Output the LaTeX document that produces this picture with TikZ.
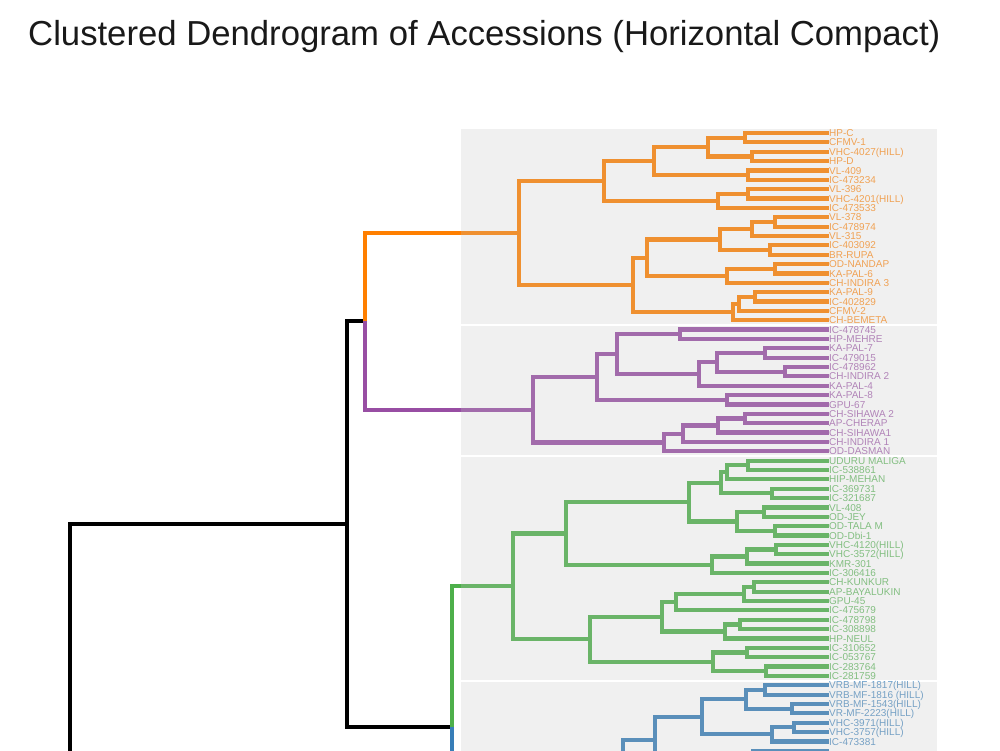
\documentclass[tikz,border=0pt]{standalone}
\usepackage{fontspec}
\setmainfont{Liberation Sans}
\usetikzlibrary{calc}
\newfontfamily\labfam{Liberation Sans}
\newcommand\labfont{\labfam\fontsize{10}{10}\selectfont}
\newcommand\titlefont{\labfam\fontsize{34.7}{36}\selectfont}
\definecolor{cO}{HTML}{FF7F00}
\definecolor{cP}{HTML}{984EA3}
\definecolor{cG}{HTML}{4DAF4A}
\definecolor{cB}{HTML}{377EB8}
\definecolor{panelgray}{RGB}{195,195,195}
\tikzset{
  lk/.style={line width=4.2pt, line cap=butt, line join=miter},
  lab/.style={anchor=west, inner sep=0pt, font=\labfont, text height=7.2pt, text depth=0pt},
  panel/.style={fill=panelgray, fill opacity=0.25, draw=none},
}
% leaf label: name, index, colour, text
\newcommand\leaf[4]{\node[lab,text=#3!82] (#1) at (829,{133+9.36*#2}) {#4};}
% join: name, x, child a, child b, colour
\newcommand\jn[5]{\path let \p1=($(#3)!.5!(#4)$) in coordinate (#1) at (#2,\y1);
  \draw[lk,#5] (#3) -| (#1) |- (#4);}
\begin{document}
\begin{tikzpicture}[x=1pt,y=-1pt]
\useasboundingbox (0,0) rectangle (1000,750);
\clip (0,0) rectangle (1000,750);
% ---- leaves (labels) ----
\leaf{o1}{0}{cO}{HP-C}
\leaf{o2}{1}{cO}{CFMV-1}
\leaf{o3}{2}{cO}{VHC-4027(HILL)}
\leaf{o4}{3}{cO}{HP-D}
\leaf{o5}{4}{cO}{VL-409}
\leaf{o6}{5}{cO}{IC-473234}
\leaf{o7}{6}{cO}{VL-396}
\leaf{o8}{7}{cO}{VHC-4201(HILL)}
\leaf{o9}{8}{cO}{IC-473533}
\leaf{o10}{9}{cO}{VL-378}
\leaf{o11}{10}{cO}{IC-478974}
\leaf{o12}{11}{cO}{VL-315}
\leaf{o13}{12}{cO}{IC-403092}
\leaf{o14}{13}{cO}{BR-RUPA}
\leaf{o15}{14}{cO}{OD-NANDAP}
\leaf{o16}{15}{cO}{KA-PAL-6}
\leaf{o17}{16}{cO}{CH-INDIRA 3}
\leaf{o18}{17}{cO}{KA-PAL-9}
\leaf{o19}{18}{cO}{IC-402829}
\leaf{o20}{19}{cO}{CFMV-2}
\leaf{o21}{20}{cO}{CH-BEMETA}
\leaf{p1}{21}{cP}{IC-478745}
\leaf{p2}{22}{cP}{HP-MEHRE}
\leaf{p3}{23}{cP}{KA-PAL-7}
\leaf{p4}{24}{cP}{IC-479015}
\leaf{p5}{25}{cP}{IC-478962}
\leaf{p6}{26}{cP}{CH-INDIRA 2}
\leaf{p7}{27}{cP}{KA-PAL-4}
\leaf{p8}{28}{cP}{KA-PAL-8}
\leaf{p9}{29}{cP}{GPU-67}
\leaf{p10}{30}{cP}{CH-SIHAWA 2}
\leaf{p11}{31}{cP}{AP-CHERAP}
\leaf{p12}{32}{cP}{CH-SIHAWA1}
\leaf{p13}{33}{cP}{CH-INDIRA 1}
\leaf{p14}{34}{cP}{OD-DASMAN}
\leaf{g1}{35}{cG}{UDURU MALIGA}
\leaf{g2}{36}{cG}{IC-538861}
\leaf{g3}{37}{cG}{HIP-MEHAN}
\leaf{g4}{38}{cG}{IC-369731}
\leaf{g5}{39}{cG}{IC-321687}
\leaf{g6}{40}{cG}{VL-408}
\leaf{g7}{41}{cG}{OD-JEY}
\leaf{g8}{42}{cG}{OD-TALA M}
\leaf{g9}{43}{cG}{OD-Dbi-1}
\leaf{g10}{44}{cG}{VHC-4120(HILL)}
\leaf{g11}{45}{cG}{VHC-3572(HILL)}
\leaf{g12}{46}{cG}{KMR-301}
\leaf{g13}{47}{cG}{IC-306416}
\leaf{g14}{48}{cG}{CH-KUNKUR}
\leaf{g15}{49}{cG}{AP-BAYALUKIN}
\leaf{g16}{50}{cG}{GPU-45}
\leaf{g17}{51}{cG}{IC-475679}
\leaf{g18}{52}{cG}{IC-478798}
\leaf{g19}{53}{cG}{IC-308898}
\leaf{g20}{54}{cG}{HP-NEUL}
\leaf{g21}{55}{cG}{IC-310652}
\leaf{g22}{56}{cG}{IC-053767}
\leaf{g23}{57}{cG}{IC-283764}
\leaf{g24}{58}{cG}{IC-281759}
\leaf{b1}{59}{cB}{VRB-MF-1817(HILL)}
\leaf{b2}{60}{cB}{VRB-MF-1816 (HILL)}
\leaf{b3}{61}{cB}{VRB-MF-1543(HILL)}
\leaf{b4}{62}{cB}{VR-MF-2223(HILL)}
\leaf{b5}{63}{cB}{VHC-3971(HILL)}
\leaf{b6}{64}{cB}{VHC-3757(HILL)}
\leaf{b7}{65}{cB}{IC-473381}
\coordinate (b8) at (829,750.76);
\coordinate (b9) at (829,760.12);
\coordinate (b10) at (829,769.48);
% ---- orange cluster ----
\jn{oa}{745}{o1}{o2}{cO}
\jn{ob}{752}{o3}{o4}{cO}
\jn{oc}{708}{oa}{ob}{cO}
\jn{od}{748}{o5}{o6}{cO}
\jn{oe}{654}{oc}{od}{cO}
\jn{of}{748}{o7}{o8}{cO}
\jn{og}{718}{of}{o9}{cO}
\jn{oh}{604}{oe}{og}{cO}
\jn{oi}{775}{o10}{o11}{cO}
\jn{oj}{752}{oi}{o12}{cO}
\jn{ok}{770}{o13}{o14}{cO}
\jn{ol}{720}{oj}{ok}{cO}
\jn{om}{775}{o15}{o16}{cO}
\jn{on}{727}{om}{o17}{cO}
\jn{oo}{647}{ol}{on}{cO}
\jn{op}{755}{o18}{o19}{cO}
\jn{oq}{739}{op}{o20}{cO}
\jn{or}{733}{oq}{o21}{cO}
\jn{os}{633}{oo}{or}{cO}
\jn{OR}{519}{oh}{os}{cO}
% ---- purple cluster ----
\jn{pa}{680}{p1}{p2}{cP}
\jn{pb}{765}{p3}{p4}{cP}
\jn{pc}{785}{p5}{p6}{cP}
\jn{pd}{717}{pb}{pc}{cP}
\jn{pe}{699}{pd}{p7}{cP}
\jn{pf}{617}{pa}{pe}{cP}
\jn{pg}{727}{p8}{p9}{cP}
\jn{ph}{597}{pf}{pg}{cP}
\jn{pi}{745}{p10}{p11}{cP}
\jn{pj}{718}{pi}{p12}{cP}
\jn{pk}{683}{pj}{p13}{cP}
\jn{pl}{664}{pk}{p14}{cP}
\jn{PR}{533}{ph}{pl}{cP}
% ---- green cluster ----
\jn{ga}{748}{g1}{g2}{cG}
\jn{gb}{727}{ga}{g3}{cG}
\jn{gc}{772}{g4}{g5}{cG}
\jn{gd}{721}{gb}{gc}{cG}
\jn{ge}{764}{g6}{g7}{cG}
\jn{gf}{775}{g8}{g9}{cG}
\jn{gg}{737}{ge}{gf}{cG}
\jn{gh}{689}{gd}{gg}{cG}
\jn{gi}{776}{g10}{g11}{cG}
\jn{gj}{747}{gi}{g12}{cG}
\jn{gk}{712}{gj}{g13}{cG}
\jn{gl}{566}{gh}{gk}{cG}
\jn{gm}{754}{g14}{g15}{cG}
\jn{gn}{744}{gm}{g16}{cG}
\jn{go}{676}{gn}{g17}{cG}
\jn{gp}{740}{g18}{g19}{cG}
\jn{gq}{725}{gp}{g20}{cG}
\jn{gr}{662}{go}{gq}{cG}
\jn{gs}{747}{g21}{g22}{cG}
\jn{gt}{766}{g23}{g24}{cG}
\jn{gu}{713}{gs}{gt}{cG}
\jn{gv}{590}{gr}{gu}{cG}
\jn{GR}{513}{gl}{gv}{cG}
% ---- blue cluster ----
\jn{ba}{765}{b1}{b2}{cB}
\jn{bb}{792}{b3}{b4}{cB}
\jn{bc}{746}{ba}{bb}{cB}
\jn{bd}{794}{b5}{b6}{cB}
\jn{be}{772}{bd}{b7}{cB}
\jn{bf}{702}{bc}{be}{cB}
\jn{bg}{753}{b8}{b9}{cB}
\jn{bh}{740}{bg}{b10}{cB}
\jn{bi}{655}{bf}{bh}{cB}
\coordinate (bx) at (690,880);
\jn{bj}{623}{bi}{bx}{cB}
\coordinate (by) at (600,924);
\jn{BR}{560}{bj}{by}{cB}
% ---- top levels ----
\path let \p1=($(OR)!.5!(PR)$) in coordinate (T) at (365,\y1);
\path let \p1=($(GR)!.5!(BR)$) in coordinate (G) at (452,\y1);
\path let \p1=($(T)!.5!(G)$) in coordinate (K) at (347,\y1);
\coordinate (Z) at (200,1100);
\path let \p1=($(K)!.5!(Z)$) in coordinate (R) at (70,\y1);
\draw[lk,black] (T) -| (K) |- (G);
\draw[lk,black] (K) -| (R) |- (Z);
\draw[lk,cO] (OR) -| (T);
\draw[lk,cP] (T) |- (PR);
\draw[lk,cG] (GR) -| (G);
\draw[lk,cB] (G) |- (BR);
% ---- panels ----
\fill[panel] (461,129.3) rectangle (937,323.9);
\fill[panel] (461,325.9) rectangle (937,454.9);
\fill[panel] (461,456.9) rectangle (937,679.6);
\fill[panel] (461,681.6) rectangle (937,800);
% ---- title ----
\node[anchor=base west, inner sep=0pt, font=\titlefont, text=black!90] (title) at (28,45) {Clustered Dendrogram of Accessions (Horizontal Compact)};
\end{tikzpicture}
\end{document}
